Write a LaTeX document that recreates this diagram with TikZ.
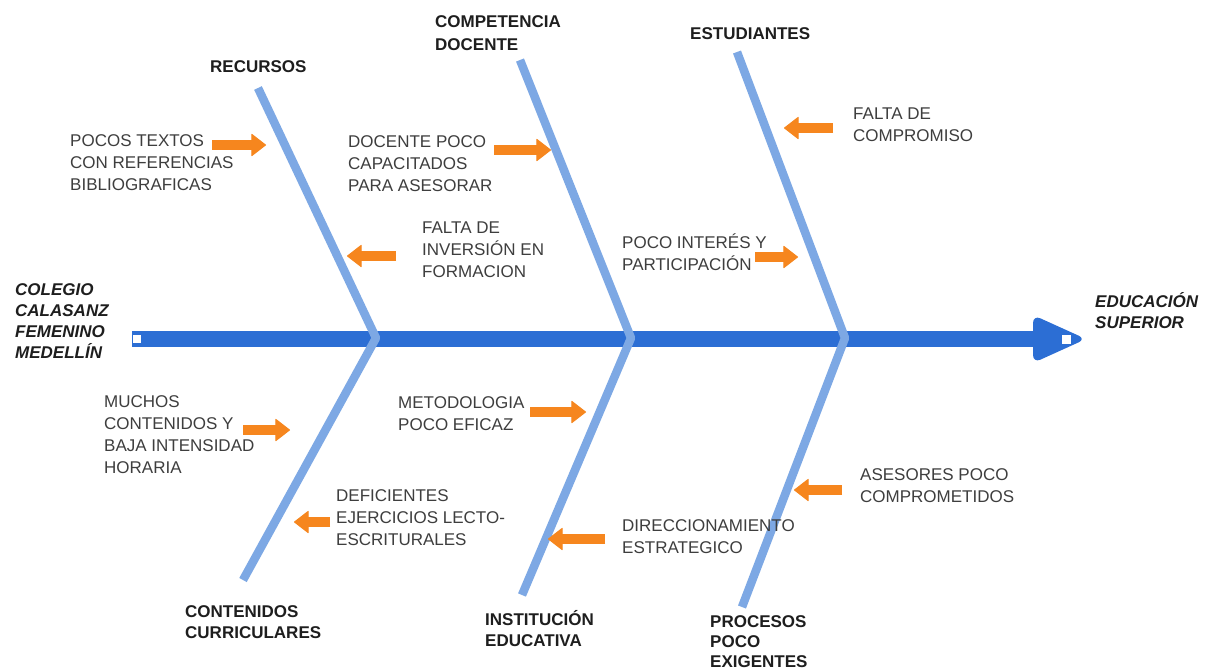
\documentclass[tikz,border=0pt]{standalone}
\usepackage{fontspec}
\setmainfont{Liberation Sans}
\usetikzlibrary{arrows.meta}
\definecolor{spinec}{RGB}{44,110,212}
\definecolor{bonec}{RGB}{125,168,228}
\definecolor{orgc}{RGB}{246,134,30}
\definecolor{txtc}{RGB}{62,62,62}
\definecolor{labc}{RGB}{30,30,30}
\newcommand\tp{\rule{0pt}{16pt}}
\begin{document}
\begin{tikzpicture}[x=1pt,y=-1pt,
  cause/.style={anchor=north west, inner sep=0pt, align=left, text=txtc, font=\fontsize{17}{22}\selectfont},
  cat/.style={anchor=north west, inner sep=0pt, align=left, text=labc, font=\bfseries\fontsize{17}{21}\selectfont},
  endlab/.style={anchor=north west, inner sep=0pt, align=left, text=labc, font=\bfseries\itshape\fontsize{17}{21}\selectfont},
  bonep/.style={draw=bonec, line width=8.5pt, line join=round},
  oarrow/.style={draw=orgc, line width=10pt, -{Triangle[round, length=15pt, width=23pt, line width=1pt]}},
  sq/.style={fill=white, inner sep=0pt, minimum size=9pt}
]
\useasboundingbox[fill=white] (0,0) rectangle (1205,670);

% spine
\coordinate (sL) at (132,339);
\coordinate (sR) at (1046,339);
\draw[spinec, line width=16pt] (sL) -- (sR);
\fill[spinec, rounded corners=8pt] (1033,315) -- (1086,339) -- (1033,363) -- cycle;
\node[sq, draw=spinec, line width=1.2pt] (startsq) at (137,339) {};
\node[sq] (endsq) at (1066,339) {};

% bones
\coordinate (b1t) at (258,88);  \coordinate (v1) at (376,338); \coordinate (b1b) at (243,580);
\coordinate (b2t) at (520,60);  \coordinate (v2) at (631,338); \coordinate (b2b) at (522,595);
\coordinate (b3t) at (737,52);  \coordinate (v3) at (845,338); \coordinate (b3b) at (742,607);
\draw[bonep] (b1t) -- (v1) -- (b1b);
\draw[bonep] (b2t) -- (v2) -- (b2b);
\draw[bonep] (b3t) -- (v3) -- (b3b);

% category labels
\node[cat] (rec) at (210,56) {\tp RECURSOS};
\node[cat, font=\bfseries\fontsize{17}{23}\selectfont] (comp) at (435,11) {\tp COMPETENCIA\\DOCENTE};
\node[cat] (est) at (690,23) {\tp ESTUDIANTES};
\node[cat] (cont) at (185,601) {\tp CONTENIDOS\\CURRICULARES};
\node[cat] (inst) at (485,609) {\tp INSTITUCIÓN\\EDUCATIVA};
\node[cat, font=\bfseries\fontsize{17}{20}\selectfont] (proc) at (710,611) {\tp PROCESOS\\POCO\\EXIGENTES};

% end labels
\node[endlab] (col) at (15,279) {\tp COLEGIO\\CALASANZ\\FEMENINO\\MEDELLÍN};
\node[endlab] (edu) at (1095,291) {\tp EDUCACIÓN\\SUPERIOR};

% causes
\node[cause] (c1) at (70,130) {\tp POCOS TEXTOS\\CON REFERENCIAS\\BIBLIOGRAFICAS};
\node[cause] (c2) at (348,131) {\tp DOCENTE POCO\\CAPACITADOS\\PARA ASESORAR};
\node[cause] (c3) at (422,217) {\tp FALTA DE\\INVERSIÓN EN\\FORMACION};
\node[cause] (c4) at (853,103) {\tp FALTA DE\\COMPROMISO};
\node[cause] (c5) at (622,232) {\tp POCO INTERÉS Y\\PARTICIPACIÓN};
\node[cause] (c6) at (104,391) {\tp MUCHOS\\CONTENIDOS Y\\BAJA INTENSIDAD\\HORARIA};
\node[cause] (c7) at (398,392) {\tp METODOLOGIA\\POCO EFICAZ};
\node[cause] (c8) at (336,485) {\tp DEFICIENTES\\EJERCICIOS LECTO-\\ESCRITURALES};
\node[cause] (c9) at (860,464) {\tp ASESORES POCO\\COMPROMETIDOS};
\node[cause] (c10) at (622,515) {\tp DIRECCIONAMIENTO\\ESTRATEGICO};

% orange arrows
\coordinate (a1s) at (212,145); \coordinate (a1e) at (266,145);
\coordinate (a2s) at (494,150); \coordinate (a2e) at (551,150);
\coordinate (a3s) at (396,256); \coordinate (a3e) at (347,256);
\coordinate (a4s) at (833,128); \coordinate (a4e) at (784,128);
\coordinate (a5s) at (755,257); \coordinate (a5e) at (798,257);
\coordinate (a6s) at (243,430); \coordinate (a6e) at (290,430);
\coordinate (a7s) at (530,412); \coordinate (a7e) at (586,412);
\coordinate (a8s) at (330,522); \coordinate (a8e) at (294,522);
\coordinate (a9s) at (842,490); \coordinate (a9e) at (794,490);
\coordinate (a10s) at (605,539); \coordinate (a10e) at (548,539);
\foreach \i in {1,...,10} {\draw[oarrow] (a\i s) -- (a\i e);}
\end{tikzpicture}
\end{document}
